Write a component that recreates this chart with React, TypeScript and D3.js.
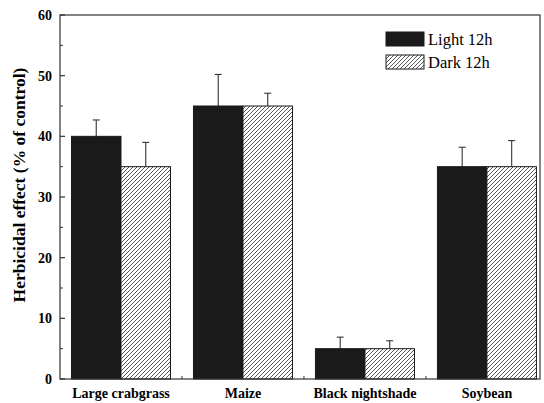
import React from 'react';
import * as d3 from 'd3';

const CATEGORIES = ['Large crabgrass', 'Maize', 'Black nightshade', 'Soybean'];
const LIGHT = [40, 45, 5, 35];
const LIGHT_ERR = [2.7, 5.2, 1.9, 3.2];
const DARK = [35, 45, 5, 35];
const DARK_ERR = [4.0, 2.1, 1.3, 4.3];
const Y_TICKS = [0, 10, 20, 30, 40, 50, 60];
const Y_MINOR = [5, 15, 25, 35, 45, 55];

const W = 544, H = 403;
const M = { left: 60, right: 4, top: 15, bottom: 24 };
const FONT = '"Liberation Serif", "Times New Roman", serif';
const AXIS = '#333';

export default function App() {
  const y = d3.scaleLinear().domain([0, 60]).range([H - M.bottom, M.top]);
  const x = d3.scaleLinear().domain([0.5, 4.435]).range([M.left, W - M.right]);
  const bw = 49.5;
  const series = [
    { name: 'Light 12h', vals: LIGHT, errs: LIGHT_ERR, fill: '#1a1a1a', off: -1 },
    { name: 'Dark 12h', vals: DARK, errs: DARK_ERR, fill: 'url(#hatch)', off: 0 },
  ];
  const x0 = M.left, x1 = W - M.right, yb = y(0), yt = y(60);
  const xMinor = [1.5, 2.5, 3.5];

  return (
    <svg width={W} height={H} style={{ position: 'absolute', left: 0, top: 0, background: '#fff' }}>
      <defs>
        <pattern id="hatch" patternUnits="userSpaceOnUse" width="4" height="4">
          <rect width="4" height="4" fill="#fff" />
          <path d="M-1,1 l2,-2 M0,4 l4,-4 M3,5 l2,-2" stroke="#444" strokeWidth="0.9" />
        </pattern>
      </defs>

      {series.map(s =>
        s.vals.map((v, i) => {
          const cx = x(i + 1) + s.off * bw;
          return (
            <g key={s.name + i}>
              <line x1={cx + bw / 2} x2={cx + bw / 2} y1={y(v)} y2={y(v + s.errs[i])} stroke={AXIS} strokeWidth={1.1} />
              <line x1={cx + bw / 2 - 3.5} x2={cx + bw / 2 + 3.5} y1={y(v + s.errs[i])} y2={y(v + s.errs[i])} stroke={AXIS} strokeWidth={1.1} />
              <rect x={cx} y={y(v)} width={bw} height={yb - y(v)} fill={s.fill} stroke="#1a1a1a" strokeWidth={1} />
            </g>
          );
        })
      )}

      {/* frame */}
      <rect x={x0} y={yt} width={x1 - x0} height={yb - yt} fill="none" stroke={AXIS} strokeWidth={1.2} />

      {Y_TICKS.map(t => (
        <g key={t}>
          <line x1={x0} x2={x0 + 5} y1={y(t)} y2={y(t)} stroke={AXIS} strokeWidth={1.2} />
          <text x={x0 - 8} y={y(t) + 5} textAnchor="end" fontFamily={FONT} fontWeight="bold" fontSize={14}>{t}</text>
        </g>
      ))}
      {Y_MINOR.map(t => (
        <line key={t} x1={x0} x2={x0 + 3} y1={y(t)} y2={y(t)} stroke={AXIS} strokeWidth={1} />
      ))}
      {xMinor.map(t => (
        <line key={t} x1={x(t)} x2={x(t)} y1={yb} y2={yb - 3} stroke={AXIS} strokeWidth={1} />
      ))}

      {CATEGORIES.map((c, i) => (
        <text key={c} x={x(i + 1)} y={398} textAnchor="middle" fontFamily={FONT} fontWeight="bold" fontSize={14}>{c}</text>
      ))}

      <text transform="translate(25,185) rotate(-90)" textAnchor="middle" fontFamily={FONT} fontWeight="bold" fontSize={17.5}>
        Herbicidal effect (% of control)
      </text>

      {series.map((s, i) => (
        <g key={s.name} transform={`translate(386,${32 + i * 23})`}>
          <rect width={38} height={14} fill={s.fill} stroke="#1a1a1a" strokeWidth={1} />
          <text x={42} y={13} fontFamily={FONT} fontSize={16.5}>{s.name}</text>
        </g>
      ))}
    </svg>
  );
}
